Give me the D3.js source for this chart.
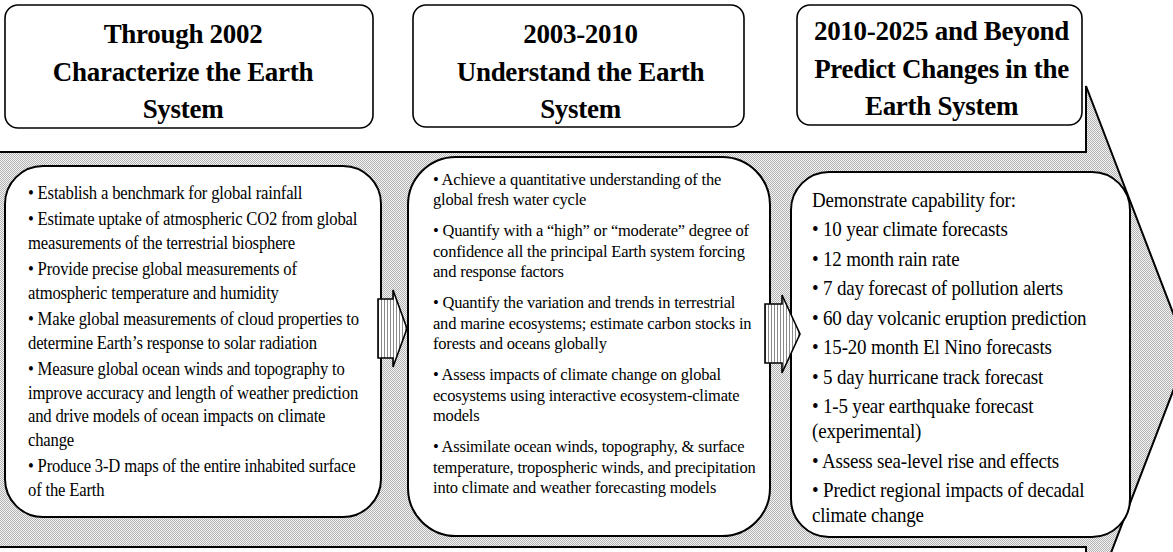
<!DOCTYPE html>
<html lang="en">
<head>
<meta charset="utf-8">
<script src="https://d3js.org/d3.v7.min.js"></script>
<title>Earth Science roadmap</title>
<style>
  body { margin: 0; background: #fff; }
  text { font-family: "Liberation Serif", "Times New Roman", serif; fill: #000; }
</style>
</head>
<body>
<script>

var width = 1173, height = 552;

// phase titles (one entry per header box, one string per line)
var phaseTitles = [
  ["Through 2002", "Characterize the Earth", "System"],
  ["2003-2010", "Understand the Earth", "System"],
  ["2010-2025 and Beyond", "Predict Changes in the", "Earth System"]
];

// goals of each phase, one array per item, one string per line
var goals2002 = [
  ["\u2022 Establish a benchmark for global  rainfall"],
  ["\u2022 Estimate uptake of atmospheric CO2 from  global", "measurements of the terrestrial biosphere"],
  ["\u2022 Provide precise global measurements of", "atmospheric temperature and humidity"],
  ["\u2022 Make global measurements of cloud properties to", "determine Earth\u2019s response to solar radiation"],
  ["\u2022 Measure global ocean winds and topography to", "improve accuracy and length of weather prediction", "and drive models of ocean impacts on climate", "change"],
  ["\u2022 Produce 3-D maps of the entire inhabited surface", "of  the Earth"]
];

var goals2010 = [
  ["\u2022 Achieve a quantitative understanding of the", "global fresh water cycle"],
  ["\u2022 Quantify with a \u201chigh\u201d or \u201cmoderate\u201d degree of", "confidence all the principal Earth system forcing", "and response factors"],
  ["\u2022 Quantify the variation and trends in terrestrial", "and marine ecosystems; estimate carbon stocks in", "forests and oceans globally"],
  ["\u2022 Assess impacts of climate change on global", "ecosystems using interactive ecosystem-climate", "models"],
  ["\u2022 Assimilate ocean winds, topography, & surface", "temperature, tropospheric winds, and precipitation", "into climate and weather forecasting  models"]
];

var goals2025 = [
  ["Demonstrate capability for:"],
  ["\u2022 10 year climate forecasts"],
  ["\u2022 12 month rain rate"],
  ["\u2022 7 day forecast of pollution alerts"],
  ["\u2022 60 day volcanic eruption prediction"],
  ["\u2022 15-20 month El Nino forecasts"],
  ["\u2022 5 day  hurricane track forecast"],
  ["\u2022 1-5 year earthquake forecast", "(experimental)"],
  ["\u2022 Assess sea-level rise and effects"],
  ["\u2022 Predict regional impacts of decadal", "climate change"]
];

var goalLists = [goals2002, goals2010, goals2025];

// layout
var headerBoxes = [
  {x0: 5, x1: 373, y0: 5, y1: 128, base: 43, dx: -6},
  {x0: 413, x1: 744, y0: 5, y1: 127, base: 43, dx: 2},
  {x0: 797, x1: 1082, y0: 5, y1: 125, base: 40, dx: 2}
];
var goalBoxes = [
  {x0: 5, x1: 381, y0: 166, y1: 517, r: 38, tx: 28, y: 199, lh: 23.5, gap: 26.5, size: 19, sx: 0.875},
  {x0: 408, x1: 770, y0: 157, y1: 536, r: 48, tx: 433, y: 185, lh: 20.5, gap: 31, size: 17, sx: 0.97},
  {x0: 791, x1: 1130, y0: 172, y1: 537, r: 38, tx: 812, y: 207, lh: 25, gap: 29.5, size: 20, sx: 0.95}
];
var smallArrows = [
  {x0: 378, xh: 393, tip: 407, sy0: 299, sy1: 358, hy0: 290, hy1: 367},
  {x0: 765, xh: 782, tip: 800, sy0: 304, sy1: 363, hy0: 295, hy1: 373}
];

var svg = d3.select("body")
  .append("svg")
    .attr("width", width)
    .attr("height", height);

var defs = svg.append("defs");

// fine dotted grey fill of the big arrow
var dots = defs.append("pattern")
    .attr("id", "dots")
    .attr("width", 2).attr("height", 2)
    .attr("patternUnits", "userSpaceOnUse");
dots.append("rect").attr("width", 2).attr("height", 2).attr("fill", "#f4f4f4");
dots.append("rect").attr("width", 1).attr("height", 1).attr("fill", "#b2b2b2");
dots.append("rect").attr("x", 1).attr("y", 1).attr("width", 1).attr("height", 1).attr("fill", "#b2b2b2");

// vertical stripes of the small arrows
var stripes = defs.append("pattern")
    .attr("id", "stripes")
    .attr("width", 3).attr("height", 3)
    .attr("patternUnits", "userSpaceOnUse");
stripes.append("rect").attr("width", 3).attr("height", 3).attr("fill", "#fff");
stripes.append("rect").attr("width", 1).attr("height", 3).attr("fill", "#8a8a8a");

var line = d3.line();

// big background arrow
var bandTop = 152, bandBot = 547, headX = 1086, headTop = 86, tipX = 1188, tipY = 352;
svg.append("path")
    .attr("d", line([[-2, bandTop], [headX, bandTop], [headX, headTop], [tipX, tipY],
                     [headX, 2 * tipY - headTop], [headX, bandBot], [-2, bandBot]]) + "Z")
    .attr("fill", "url(#dots)")
    .attr("stroke", "#000")
    .attr("stroke-width", 2);

// header boxes
var headers = svg.selectAll(".header")
    .data(headerBoxes)
    .enter().append("g")
    .attr("class", "header");

headers.append("rect")
    .attr("x", function(d) { return d.x0; })
    .attr("y", function(d) { return d.y0; })
    .attr("width", function(d) { return d.x1 - d.x0; })
    .attr("height", function(d) { return d.y1 - d.y0; })
    .attr("rx", 13)
    .attr("fill", "#fff")
    .attr("stroke", "#000")
    .attr("stroke-width", 1.6);

headers.each(function(d, i) {
  var cx = (d.x0 + d.x1) / 2 + d.dx;
  var g = d3.select(this).append("g")
      .attr("transform", "translate(" + cx + ",0)");
  g.selectAll("text")
      .data(phaseTitles[i])
      .enter().append("text")
      .attr("x", 0)
      .attr("y", function(t, j) { return d.base + j * 37.5; })
      .attr("text-anchor", "middle")
      .attr("font-size", 27)
      .attr("font-weight", "bold")
      .attr("letter-spacing", -0.3)
      .text(function(t) { return t; });
});

// goal boxes
var boxes = svg.selectAll(".goals")
    .data(goalBoxes)
    .enter().append("g")
    .attr("class", "goals");

boxes.append("rect")
    .attr("x", function(d) { return d.x0; })
    .attr("y", function(d) { return d.y0; })
    .attr("width", function(d) { return d.x1 - d.x0; })
    .attr("height", function(d) { return d.y1 - d.y0; })
    .attr("rx", function(d) { return d.r; })
    .attr("fill", "#fff")
    .attr("stroke", "#000")
    .attr("stroke-width", 2);

boxes.each(function(d, i) {
  var rows = [], y = d.y;
  goalLists[i].forEach(function(item, k) {
    if (k > 0) y += d.gap;
    item.forEach(function(t, j) {
      if (j > 0) y += d.lh;
      rows.push({text: t, y: y});
    });
  });
  var g = d3.select(this).append("g")
      .attr("transform", "translate(" + d.tx + ",0) scale(" + d.sx + ",1)");
  g.selectAll("text")
      .data(rows)
      .enter().append("text")
      .attr("x", 0)
      .attr("y", function(r) { return r.y; })
      .attr("font-size", d.size)
      .attr("letter-spacing", -0.2)
      .text(function(r) { return r.text; });
});

// small striped arrows between the boxes
svg.selectAll(".step")
    .data(smallArrows)
    .enter().append("path")
    .attr("class", "step")
    .attr("d", function(a) {
      var my = (a.hy0 + a.hy1) / 2;
      return line([[a.x0, a.sy0], [a.xh, a.sy0], [a.xh, a.hy0], [a.tip, my],
                   [a.xh, a.hy1], [a.xh, a.sy1], [a.x0, a.sy1]]) + "Z";
    })
    .attr("fill", "url(#stripes)")
    .attr("stroke", "#000")
    .attr("stroke-width", 1.6);

</script>
</body>
</html>
